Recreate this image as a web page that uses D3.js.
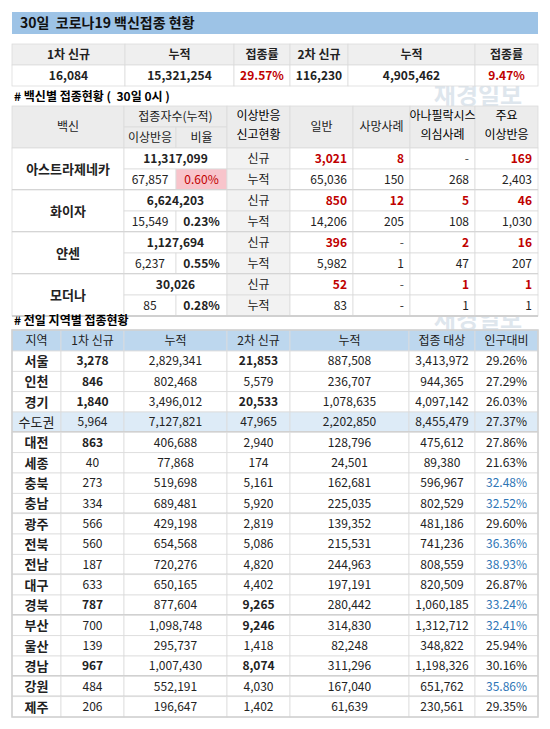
<!DOCTYPE html>
<html><head><meta charset="utf-8">
<script src="https://cdn.jsdelivr.net/npm/d3@7"></script>
<style>body{margin:0;background:#fff}svg{font-family:"Noto Sans CJK KR","Noto Sans",sans-serif}</style>
</head><body><svg id="c" width="550" height="729"></svg>
<script>
// summary
const sumHead = ['1차 신규','누적','접종률','2차 신규','누적','접종률'];
const sumVals = ['16,084','15,321,254','29.57%','116,230','4,905,462','9.47%'];

// vaccines
const vaccines = ['아스트라제네카','화이자','얀센','모더나'];
const vacTotal = ['11,317,099','6,624,203','1,127,694','30,026'];
const vacAdverse = ['67,857','15,549','6,237','85'];
const vacRate = ['0.60%','0.23%','0.55%','0.28%'];
const vacNew = [['3,021','8','-','169'],['850','12','5','46'],['396','-','2','16'],['52','-','1','1']];
const vacCum = [['65,036','150','268','2,403'],['14,206','205','108','1,030'],['5,982','1','47','207'],['83','-','1','1']];

// regions
const regHead = ['지역','1차 신규','누적','2차 신규','누적','접종 대상','인구대비'];
const regions = ['서울','인천','경기','수도권','대전','세종','충북','충남','광주','전북','전남','대구','경북','부산','울산','경남','강원','제주'];
const first = ['3,278','846','1,840','5,964','863','40','273','334','566','560','187','633','787','700','139','967','484','206'];
const firstCum = ['2,829,341','802,468','3,496,012','7,127,821','406,688','77,868','519,698','689,481','429,198','654,568','720,276','650,165','877,604','1,098,748','295,737','1,007,430','552,191','196,647'];
const second = ['21,853','5,579','20,533','47,965','2,940','174','5,161','5,920','2,819','5,086','4,820','4,402','9,265','9,246','1,418','8,074','4,030','1,402'];
const secondCum = ['887,508','236,707','1,078,635','2,202,850','128,796','24,501','162,681','225,035','139,352','215,531','244,963','197,191','280,442','314,830','82,248','311,296','167,040','61,639'];
const target = ['3,413,972','944,365','4,097,142','8,455,479','475,612','89,380','596,967','802,529','481,186','741,236','808,559','820,509','1,060,185','1,312,712','348,822','1,198,326','651,762','230,561'];
const ratio = ['29.26%','27.29%','26.03%','27.37%','27.86%','21.63%','32.48%','32.52%','29.60%','36.36%','38.93%','26.87%','33.24%','32.41%','25.94%','30.16%','35.86%','29.35%'];
const boldFirst = ['서울','인천','경기','대전','경북','경남'];
const boldSecond = ['서울','경기','경북','부산','경남'];
const blueRatio = ['충북','충남','전북','전남','경북','부산','강원'];
const groupEnds = ['수도권','충남','전남','경북','경남','강원'];

const RED = '#c00000', BLUE = '#2e75b6', LINE = '#dcdcdc';
const svg = d3.select('#c');

function cell(x, y, w, h, txt, o = {}) {
  svg.append('rect').attr('x', x).attr('y', y).attr('width', w).attr('height', h)
    .attr('fill', o.bg || '#fff').attr('stroke', o.stroke || LINE).attr('stroke-width', 0.8);
  if (txt == null) return;
  const t = svg.append('text').attr('y', y + h / 2).attr('dy', '0.36em')
    .attr('font-size', o.size || 12).attr('fill', o.color || '#222')
    .attr('font-weight', o.bold ? 'bold' : 'normal').text(txt);
  if (o.align === 'end') t.attr('x', x + w - 6).attr('text-anchor', 'end');
  else t.attr('x', x + w / 2).attr('text-anchor', 'middle');
}

// watermark (sits in the gaps between tables)
[[478, 104], [478, 328]].forEach(([x, y]) => {
  svg.append('text').attr('x', x).attr('y', y).attr('text-anchor', 'middle')
    .attr('font-size', 24).attr('font-weight', 'bold').attr('fill', '#b8c8d8').attr('opacity', 0.45).text('재경일보');
});

// title
svg.append('rect').attr('x', 12).attr('y', 12).attr('width', 526).attr('height', 22).attr('fill', '#9dc3e6');
svg.append('text').attr('x', 20).attr('y', 23).attr('dy', '0.36em').attr('font-size', 14).attr('font-weight', 'bold')
  .attr('fill', '#111').attr('xml:space', 'preserve').text('30일  코로나19 백신접종 현황');

// summary table
const sumX = [12, 125, 234, 290, 348, 475, 538];
sumHead.forEach((t, i) => {
  const x0 = sumX[i], w = sumX[i + 1] - x0;
  cell(x0, 44, w, 21, t, { bg: '#efefef', bold: true });
  cell(x0, 65, w, 21, sumVals[i], { bold: true, color: i === 2 || i === 5 ? RED : '#222' });
});

// vaccine table
svg.append('text').attr('x', 14).attr('y', 97).attr('dy', '0.36em').attr('font-size', 12).attr('font-weight', 'bold')
  .attr('xml:space', 'preserve').text('# 백신별 접종현황 (  30일 0시 )');
const vX = [12, 124, 176, 227, 290, 353, 410, 475, 538];
const vY = d3.scaleLinear().domain([0, 8]).range([148, 316]);
const rh = vY(1) - vY(0);
const HB = '#ececec';
cell(vX[0], 106, vX[1] - vX[0], 42, '백신', { bg: HB });
cell(vX[1], 106, vX[3] - vX[1], 21, '접종자수(누적)', { bg: HB });
cell(vX[1], 127, vX[2] - vX[1], 21, '이상반응', { bg: HB });
cell(vX[2], 127, vX[3] - vX[2], 21, '비율', { bg: HB });
cell(vX[3], 106, vX[4] - vX[3], 42, null, { bg: HB });
svg.append('text').attr('x', (vX[3] + vX[4]) / 2).attr('y', 120).attr('text-anchor', 'middle').attr('font-size', 12).text('이상반응');
svg.append('text').attr('x', (vX[3] + vX[4]) / 2).attr('y', 139).attr('text-anchor', 'middle').attr('font-size', 12).text('신고현황');
['일반', '사망사례', null, null].forEach((t, i) => cell(vX[4 + i], 106, vX[5 + i] - vX[4 + i], 42, t, { bg: HB }));
[['아나필락시스', '의심사례', 6], ['주요', '이상반응', 7]].forEach(([a, b, i]) => {
  const cx = (vX[i] + vX[i + 1]) / 2;
  svg.append('text').attr('x', cx).attr('y', 120).attr('text-anchor', 'middle').attr('font-size', 12).text(a);
  svg.append('text').attr('x', cx).attr('y', 139).attr('text-anchor', 'middle').attr('font-size', 12).text(b);
});
vaccines.forEach((v, g) => {
  const y0 = vY(g * 2), y1 = vY(g * 2 + 1);
  cell(vX[0], y0, vX[1] - vX[0], rh * 2, v, { bold: true, size: 13 });
  cell(vX[1], y0, vX[3] - vX[1], rh, vacTotal[g], { bold: true });
  cell(vX[1], y1, vX[2] - vX[1], rh, vacAdverse[g]);
  cell(vX[2], y1, vX[3] - vX[2], rh, vacRate[g], g === 0 ? { bg: '#f8c4cb', color: RED } : { bold: true });
  cell(vX[3], y0, vX[4] - vX[3], rh, '신규', { bg: '#f2f2f2' });
  cell(vX[3], y1, vX[4] - vX[3], rh, '누적', { bg: '#f2f2f2' });
  vacNew[g].forEach((t, i) => cell(vX[4 + i], y0, vX[5 + i] - vX[4 + i], rh, t,
    { align: 'end', bold: t !== '-', color: t !== '-' ? RED : '#444' }));
  vacCum[g].forEach((t, i) => cell(vX[4 + i], y1, vX[5 + i] - vX[4 + i], rh, t, { align: 'end' }));
  svg.append('line').attr('x1', 12).attr('x2', 538).attr('y1', vY(g * 2 + 2)).attr('y2', vY(g * 2 + 2))
    .attr('stroke', '#d0d0d0').attr('stroke-width', 2);
});

// regional table
svg.append('text').attr('x', 14).attr('y', 321).attr('dy', '0.36em').attr('font-size', 12).attr('font-weight', 'bold').text('# 전일 지역별 접종현황');
const rX = [12, 61, 124, 227, 290, 409, 475, 538];
const rY = d3.scaleBand().domain(regions).range([351, 717]);
regHead.forEach((t, i) => cell(rX[i], 330, rX[i + 1] - rX[i], 21, t, { bg: '#bdd7ee' }));
regions.forEach((r, k) => {
  const y = rY(r), h = rY.bandwidth();
  const bg = r === '수도권' ? '#ddebf7' : '#fff';
  const cols = [first[k], firstCum[k], second[k], secondCum[k], target[k], ratio[k]];
  cell(rX[0], y, rX[1] - rX[0], h, r, { bg, bold: r !== '수도권', size: 13 });
  cols.forEach((t, i) => {
    const o = { bg };
    if (i === 0 && boldFirst.includes(r)) o.bold = true;
    if (i === 2 && boldSecond.includes(r)) o.bold = true;
    if (i === 5 && blueRatio.includes(r)) o.color = BLUE;
    cell(rX[i + 1], y, rX[i + 2] - rX[i + 1], h, t, o);
  });
  if (groupEnds.includes(r)) svg.append('line').attr('x1', 12).attr('x2', 538)
    .attr('y1', y + h).attr('y2', y + h).attr('stroke', '#d0d0d0').attr('stroke-width', 2.5);
});
svg.append('rect').attr('x', 12).attr('y', 330).attr('width', 526).attr('height', 387)
  .attr('fill', 'none').attr('stroke', '#d0d0d0').attr('stroke-width', 1.5);
</script></body></html>
